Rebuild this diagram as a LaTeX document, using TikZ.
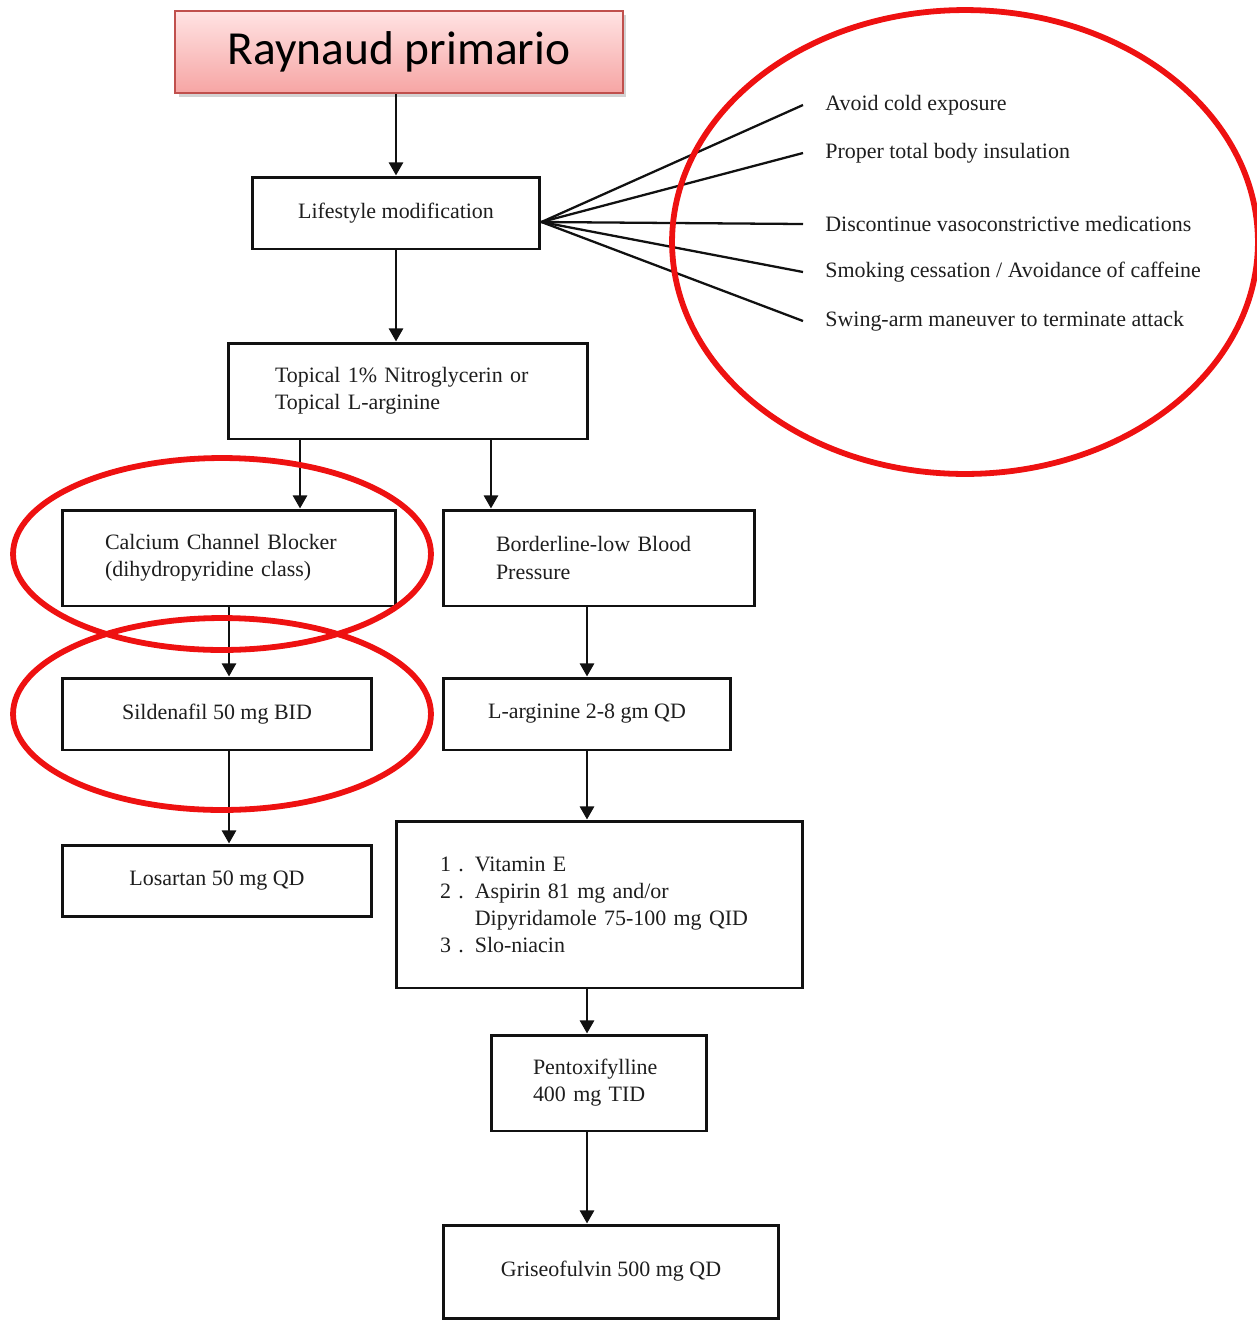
\documentclass[tikz,border=0pt]{standalone}
\usepackage{fontspec}
\setmainfont{Liberation Serif}
\newfontfamily\titlefont{Carlito}
\usetikzlibrary{positioning,arrows.meta,shadows}
\definecolor{textPrimary}{HTML}{1E1E1E}
\definecolor{lineDark}{HTML}{111111}
\definecolor{ringRed}{HTML}{EE1111}
\definecolor{titleTop}{HTML}{FFE3E3}
\definecolor{titleBot}{HTML}{F6A5A4}
\definecolor{titleEdge}{HTML}{C0504D}

\begin{document}
\begin{tikzpicture}[
          x=0.02cm,y=-0.02cm,
          every node/.style={font=\fontsize{12.5}{15.4}\selectfont,
                             text=textPrimary},
          box/.style={draw=lineDark,line width=1.7pt,fill=white,
                      align=center,inner sep=0pt},
          lbox/.style={box,align=left},
          arr/.style={draw=lineDark,line width=1.6pt,
                      -{Triangle[length=7.5pt,width=8pt]}},
          fan/.style={draw=lineDark,line width=1.3pt},
          ring/.style={draw=ringRed,line width=3.3pt},
        ]
        \useasboundingbox (0,0) rectangle (1257,1320);
        % title
        \node[draw=titleEdge,line width=1pt,top color=titleTop,
              bottom color=titleBot,
              drop shadow={shadow xshift=0.07cm,shadow yshift=-0.07cm,
                           opacity=0.35},
              minimum width=8.96cm,minimum height=1.64cm,
              font=\titlefont\fontsize{27}{30}\selectfont,text=black]
              (title) at (399,52) {Raynaud primario};
        % main column
        \node[box,minimum width=5.76cm,minimum height=1.44cm]
              (life) at (396,213) {Lifestyle modification};
        \node[lbox,text width=5.32cm,inner xsep=0.94cm,minimum height=1.92cm]
              (topical) at (408,391)
              {Topical 1\% Nitroglycerin or\\Topical L-arginine};
        % left branch
        \node[lbox,text width=4.96cm,inner xsep=0.86cm,minimum height=1.92cm]
              (ccb) at (229,558)
              {Calcium Channel Blocker\\(dihydropyridine class)};
        \node[box,minimum width=6.2cm,minimum height=1.44cm]
              (sild) at (217,714) {Sildenafil 50 mg BID};
        \node[box,minimum width=6.2cm,minimum height=1.42cm]
              (losartan) at (217,880.5) {Losartan 50 mg QD};
        % right branch
        \node[lbox,text width=4.12cm,inner xsep=1.06cm,minimum height=1.92cm]
              (border) at (599,558) {Borderline-low Blood\\Pressure};
        \node[box,minimum width=5.76cm,minimum height=1.44cm]
              (larg) at (587,714) {L-arginine 2-8 gm QD};
        \node[lbox,text width=6.38cm,inner xsep=0.88cm,minimum height=3.34cm]
              (vit) at (599.5,904.5)
              {1 . Vitamin E\\2 . Aspirin 81 mg and/or\\
               \hphantom{2 . }Dipyridamole 75-100 mg QID\\3 . Slo-niacin};
        \node[lbox,text width=2.64cm,inner xsep=0.84cm,minimum height=1.92cm]
              (pent) at (599,1083) {Pentoxifylline\\400 mg TID};
        \node[box,minimum width=6.72cm,minimum height=1.86cm]
              (gris) at (611,1271.5) {Griseofulvin 500 mg QD};
        % arrows
        \draw[arr] (life.north |- title.south) -- (life.north);
        \draw[arr] (life.south) -- (life.south |- topical.north);
        \draw[arr] ([xshift=-2.16cm]topical.south) coordinate (tl)
                   -- (tl |- ccb.north);
        \draw[arr] ([xshift=1.66cm]topical.south) coordinate (tr)
                   -- (tr |- border.north);
        \draw[arr] (ccb.south) -- (ccb.south |- sild.north);
        \draw[arr] (ccb.south |- sild.south) -- (ccb.south |- losartan.north);
        \draw[arr] (larg.north |- border.south) -- (larg.north);
        \draw[arr] (larg.south) -- (larg.south |- vit.north);
        \draw[arr] (larg.south |- vit.south) -- (larg.south |- pent.north);
        \draw[arr] (larg.south |- pent.south) -- (larg.south |- gris.north);
        % lifestyle measures
        \coordinate (hub) at ([yshift=-0.18cm]life.east);
        \foreach \y/\name/\lab in {105/m1/{Avoid cold exposure},
                                   153/m2/{Proper total body insulation},
                                   224/m3/{Discontinue vasoconstrictive medications},
                                   272/m4/{Smoking cessation / Avoidance of caffeine},
                                   321/m5/{Swing-arm maneuver to terminate attack}} {
          \node[anchor=west,inner xsep=0.44cm,inner ysep=0pt]
                (\name) at (803,\y) {\lab};
          \draw[fan] (hub) -- (\name.west);
        }
        % red rings
        \draw[ring] (965,242) ellipse [x radius=5.86cm,y radius=4.64cm];
        \draw[ring] (222,554) ellipse [x radius=4.18cm,y radius=1.92cm];
        \draw[ring] (222,714) ellipse [x radius=4.18cm,y radius=1.92cm];
      \end{tikzpicture}
\end{document}
